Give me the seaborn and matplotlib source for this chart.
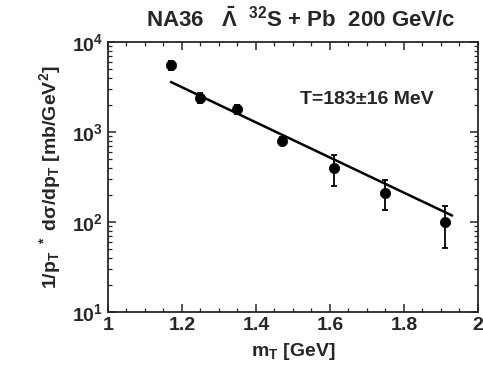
import numpy as np
import pandas as pd
import matplotlib
matplotlib.use("Agg")
import matplotlib.pyplot as plt
import seaborn as sns
from matplotlib.ticker import MultipleLocator, LogLocator, NullFormatter

mt = [1.17, 1.25, 1.35, 1.47, 1.61, 1.75, 1.91]
yield_vals = [5500, 2400, 1800, 800, 400, 210, 100]
err_lo = [600, 300, 200, 80, 150, 75, 48]
err_hi = [700, 350, 220, 90, 150, 80, 50]
fit_x = [1.17, 1.93]
fit_y = [3600, 118]
xticks = [1, 1.2, 1.4, 1.6, 1.8, 2]
xticklabels = ["1", "1.2", "1.4", "1.6", "1.8", "2"]

sns.set_style("ticks")
plt.rcParams['font.family'] = ['Liberation Sans', 'DejaVu Sans']
plt.rcParams['font.weight'] = 'bold'
plt.rcParams['axes.labelweight'] = 'bold'
plt.rcParams['mathtext.fontset'] = 'custom'
plt.rcParams['mathtext.rm'] = 'Liberation Sans:bold'
plt.rcParams['mathtext.it'] = 'Liberation Sans:bold'
plt.rcParams['mathtext.bf'] = 'Liberation Sans:bold'

fig = plt.figure(figsize=(4.83, 3.69), dpi=100)
ax = fig.add_axes([0.2236, 0.1545, 0.7660, 0.7315])

df = pd.DataFrame({"mt": mt, "y": yield_vals})
fit = pd.DataFrame({"mt": fit_x, "y": fit_y})

sns.lineplot(data=fit, x="mt", y="y", ax=ax, color="black", lw=1.8)
ax.errorbar(mt, yield_vals, yerr=[err_lo, err_hi], fmt="none", ecolor="black",
            elinewidth=1.3, capsize=2.5, capthick=1.3)
sns.scatterplot(data=df, x="mt", y="y", ax=ax, color="black", s=55,
                edgecolor="black", linewidth=0.5, zorder=5)

ax.set_yscale("log")
ax.set_xlim(1, 2)
ax.set_ylim(10, 1e4)
ax.set_xticks(xticks)
ax.set_xticklabels(xticklabels)
ax.xaxis.set_minor_locator(MultipleLocator(0.05))
ax.yaxis.set_minor_locator(LogLocator(base=10, subs=np.arange(2, 10)))
ax.yaxis.set_minor_formatter(NullFormatter())
ax.tick_params(which="both", direction="in", top=True, right=True, labelsize=14)
ax.tick_params(which="major", length=6, width=1.1)
ax.tick_params(which="minor", length=3, width=0.9)
for s in ax.spines.values():
    s.set_linewidth(1.3)

ax.set_xlabel(r"m$_T$ [GeV]", fontsize=14, labelpad=5)
ax.set_ylabel(r"1/p$_T$ $^*$ d$\sigma$/dp$_T$ [mb/GeV$^2$]", fontsize=14, labelpad=6)
ax.text(0.52, 1.04, r"NA36   $\bar{\Lambda}$  $^{32}$S + Pb  200 GeV/c",
        transform=ax.transAxes, ha="center", va="bottom", fontsize=16)
ax.text(0.52, 0.77, "T=183±16 MeV", transform=ax.transAxes, fontsize=14)

fig.savefig("out.png", dpi=100)
